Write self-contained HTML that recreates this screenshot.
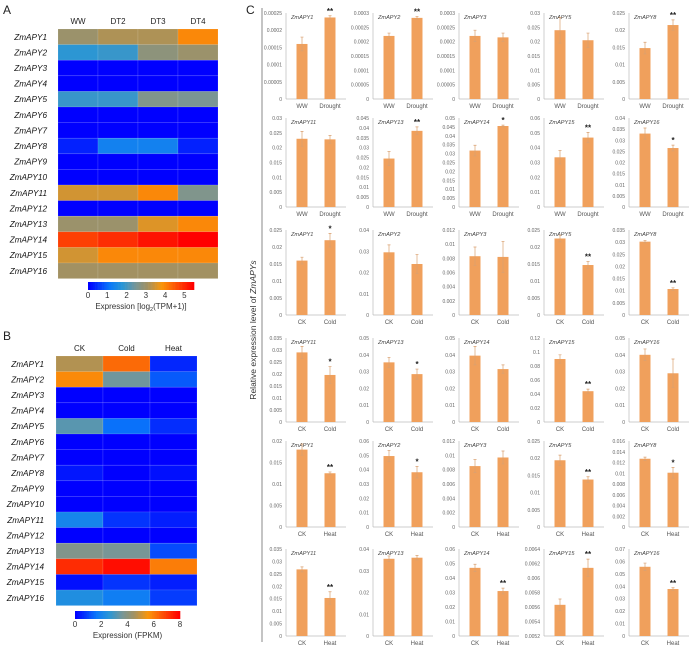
<!DOCTYPE html>
<html><head><meta charset="utf-8"><style>
body{margin:0;background:#fff;}
svg{display:block;font-family:"Liberation Sans",sans-serif;}
</style></head><body>
<svg id="fig" width="690" height="647" viewBox="0 0 690 647">
<text x="3" y="14" font-size="12" fill="#222">A</text>
<text x="3" y="340" font-size="12" fill="#222">B</text>
<text x="246" y="14" font-size="12" fill="#222">C</text>
<line x1="262" y1="8" x2="262" y2="642" stroke="#888" stroke-width="1"/>
<text transform="translate(256,330) rotate(-90)" text-anchor="middle" font-size="8.5" fill="#333">Relative expression level of <tspan font-style="italic">ZmAPYs</tspan></text>
<g id="hmA"></g>
<g id="hmB"></g>
<g id="bars"></g>
</svg>
<script>
const genes=["ZmAPY1","ZmAPY2","ZmAPY3","ZmAPY4","ZmAPY5","ZmAPY6","ZmAPY7","ZmAPY8","ZmAPY9","ZmAPY10","ZmAPY11","ZmAPY12","ZmAPY13","ZmAPY14","ZmAPY15","ZmAPY16"];
const condA=["WW","DT2","DT3","DT4"];
const valsA=[[3,3.2,3.2,4],[1.8,1.9,2.8,3],[0,0,0,0],[0,0,0,0],[1.9,1.9,2.6,2.5],[0,0,0,0],[0,0,0,0],[0.3,1.3,1.3,0.3],[0,0,0,0],[0,0,0,0],[3.5,3.5,4,2.6],[0,0,0,0],[3,3,3.6,4],[4.8,5,5.3,5.5],[3.5,4,4,4],[3.1,3.1,3.1,3.1]];
const condB=["CK","Cold","Heat"];
const valsB=[[4.7,6.3,0.5],[5.8,3.5,1.2],[0,0,0],[0,0,0],[3.2,1.5,0.6],[0,0,0],[0,0,0],[0.3,0,0.2],[0,0,0],[0,0,0],[2,0.7,0.4],[0,0,0],[3.8,3.6,1],[7.3,7.8,6],[0.2,0.7,0.4],[2.3,1.8,0.8]];
const ticksA=["0","1","2","3","4","5"];
const ticksB=["0","2","4","6","8"];

const panelGenes=["ZmAPY1","ZmAPY2","ZmAPY3","ZmAPY5","ZmAPY8","ZmAPY11","ZmAPY13","ZmAPY14","ZmAPY15","ZmAPY16",
"ZmAPY1","ZmAPY2","ZmAPY3","ZmAPY5","ZmAPY8","ZmAPY11","ZmAPY13","ZmAPY14","ZmAPY15","ZmAPY16",
"ZmAPY1","ZmAPY2","ZmAPY3","ZmAPY5","ZmAPY8","ZmAPY11","ZmAPY13","ZmAPY14","ZmAPY15","ZmAPY16"];
const panelMin=[0,0,0,0,0,0,0,0,0,0, 0,0,0,0,0,0,0,0,0,0, 0,0,0,0,0,0,0,0,0.0052,0];
const panelMax=[0.00025,0.0003,0.0003,0.03,0.025,0.03,0.045,0.05,0.06,0.04, 0.025,0.04,0.012,0.025,0.035,0.035,0.05,0.05,0.12,0.05, 0.02,0.06,0.012,0.025,0.016,0.035,0.04,0.06,0.0064,0.07];
const panelStep=[0.00005,0.00005,0.00005,0.005,0.005,0.005,0.005,0.005,0.01,0.005, 0.005,0.01,0.002,0.005,0.005,0.005,0.01,0.01,0.02,0.01, 0.005,0.01,0.002,0.005,0.002,0.005,0.01,0.01,0.0002,0.01];
const ctrlVals=[0.00016,0.00022,0.00022,0.024,0.0148,0.023,0.0245,0.0317,0.0335,0.033, 0.016,0.0295,0.0083,0.0225,0.0302,0.029,0.0355,0.0395,0.09,0.040, 0.018,0.0495,0.0085,0.0194,0.0127,0.0268,0.0355,0.047,0.00563,0.0557];
const ctrlErr=[0.00002,0.00001,0.00002,0.0045,0.0017,0.0025,0.0035,0.003,0.0045,0.0025, 0.001,0.0035,0.0013,0.001,0.0005,0.0025,0.003,0.0055,0.006,0.0035, 0.0013,0.004,0.0009,0.0015,0.0003,0.001,0.0013,0.0025,0.00008,0.003];
const trtVals=[0.000237,0.000283,0.000215,0.0205,0.0215,0.0228,0.0385,0.0455,0.0468,0.0265, 0.022,0.024,0.0082,0.0147,0.0107,0.0196,0.0285,0.0315,0.044,0.029, 0.0125,0.0382,0.0097,0.0138,0.0101,0.0153,0.036,0.031,0.00614,0.0378];
const trtErr=[0.000005,0.000005,0.000015,0.0025,0.0015,0.0013,0.002,0.0005,0.0035,0.0013, 0.002,0.0045,0.0022,0.001,0.0005,0.0035,0.003,0.0025,0.003,0.0085, 0.0003,0.004,0.0009,0.0008,0.001,0.0025,0.001,0.002,0.00012,0.001];
const sigMarks=["**","**","","","**","","**","*","**","*", "*","","","**","**","*","*","","**","", "**","*","","**","*","**","","**","**","**"];
const ctrlLabels=["WW","CK","CK"];
const trtLabels=["Drought","Cold","Heat"];

const NS="http://www.w3.org/2000/svg";
function mk(tag,attrs,parent){const e=document.createElementNS(NS,tag);for(const k in attrs)e.setAttribute(k,attrs[k]);parent.appendChild(e);return e;}
const stops=[[0,[0,0,255]],[0.2,[10,120,250]],[0.32,[40,150,215]],[0.45,[120,150,150]],[0.56,[160,145,100]],[0.7,[250,150,10]],[1,[255,0,0]]];
function color(t){t=Math.max(0,Math.min(1,t));for(let i=1;i<stops.length;i++){if(t<=stops[i][0]){const a=stops[i-1],b=stops[i];const f=(t-a[0])/(b[0]-a[0]);const c=a[1].map((v,j)=>Math.round(v+(b[1][j]-v)*f));return `rgb(${c[0]},${c[1]},${c[2]})`;}}return "rgb(255,0,0)";}

function heatmap(g,cond,vals,maxV,x0,y0,cw,ch,cbx,cby,cbw,ticks,title,labX){
  cond.forEach((c,j)=>{const t=mk("text",{x:x0+cw*j+cw/2,y:y0-5,"text-anchor":"middle","font-size":"8",fill:"#222"},g);t.textContent=c;
    
    });
  genes.forEach((gn,i)=>{const t=mk("text",{x:labX,y:y0+ch*i+ch/2+3,"text-anchor":"end","font-size":"8.2","font-style":"italic",fill:"#111"},g);t.textContent=gn;
    
    
    vals[i].forEach((v,j)=>{const r=mk("rect",{x:x0+cw*j,y:y0+ch*i,width:cw,height:ch,fill:color(v/maxV),stroke:"rgba(255,255,255,0.18)","stroke-width":"0.6"},g);
      
      });});
  for(let k=0;k<60;k++){const r=mk("rect",{x:cbx+cbw*k/60,y:cby,width:cbw/60+0.3,height:8,fill:color(k/59)},g);
    
    }
  ticks.forEach(tk=>{const x=cbx+cbw*(+tk)/maxV;const t=mk("text",{x:x,y:cby+16,"text-anchor":"middle","font-size":"8",fill:"#333"},g);t.textContent=tk;
    
    });
  const tt=mk("text",{x:cbx+cbw/2,y:cby+27,"text-anchor":"middle","font-size":"8",fill:"#333"},g);tt.innerHTML=title;
  
  
}
heatmap(document.getElementById("hmA"),condA,valsA,5.5,58,29,40,15.6,88,282,106,ticksA,'Expression [log<tspan font-size="5.5" dy="2">2</tspan><tspan dy="-2">(TPM+1)]</tspan>',47);
heatmap(document.getElementById("hmB"),condB,valsB,8,56,356,47,15.6,75,611,105,ticksB,'Expression (FPKM)',44);

const bg=document.getElementById("bars");
const axisXs=[286,373,459,544,629];
const rowTop=[13,118,230,338,441,549];
const rowBot=[99,207,315,422,527,636];
const orange="#f0a05c";
for(let p=0;p<30;p++){
  const r=Math.floor(p/5),c=p%5,grp=Math.floor(r/2);
  const ax=axisXs[c],top=rowTop[r],bot=rowBot[r];
  const mn=panelMin[p],mx=panelMax[p];
  const y=v=>bot-(v-mn)/(mx-mn)*(bot-top);
  const g=mk("g",{},bg);
  
  
  mk("line",{x1:ax,y1:top,x2:ax,y2:bot,stroke:"#bbb","stroke-width":"0.7"},g);
  mk("line",{x1:ax,y1:bot,x2:Math.min(ax+60,690),y2:bot,stroke:"#bbb","stroke-width":"0.7"},g);
  const n=Math.round((mx-mn)/panelStep[p]);
  for(let k=0;k<=n;k++){const v=mn+k*panelStep[p];const t=mk("text",{x:ax-4,y:y(v)+2,"text-anchor":"end","font-size":"5",fill:"#666"},g);
    t.textContent=parseFloat(v.toFixed(6)).toString();
    
    }
  const gl=mk("text",{x:ax+5,y:top+6,"font-size":"5.6","font-style":"italic",fill:"#444"},g);gl.textContent=panelGenes[p];
  
  
  [[ctrlVals[p],ctrlErr[p],16,ctrlLabels[grp]],[trtVals[p],trtErr[p],44,trtLabels[grp]]].forEach((b,i)=>{
    const cx=ax+b[2];
    const rect=mk("rect",{x:cx-5.5,y:y(b[0]),width:11,height:bot-y(b[0]),fill:orange},g);
    
    
    const e1=y(b[0]+b[1]),e2=y(b[0]-b[1]);
    const el=mk("path",{d:`M${cx},${e1}V${e2}M${cx-1.5},${e1}H${cx+1.5}M${cx-1.5},${e2}H${cx+1.5}`,stroke:"#d9a070","stroke-width":"0.7",fill:"none"},g);
    
    
    const xl=mk("text",{x:cx,y:bot+9,"text-anchor":"middle","font-size":"6",fill:"#555"},g);xl.textContent=b[3];
    
    
    if(i===1&&sigMarks[p]){const s=mk("text",{x:cx,y:e1-2,"text-anchor":"middle","font-size":"8","font-weight":"bold",fill:"#222"},g);s.textContent=sigMarks[p];
      
      }
  });
}
</script>
</body></html>
